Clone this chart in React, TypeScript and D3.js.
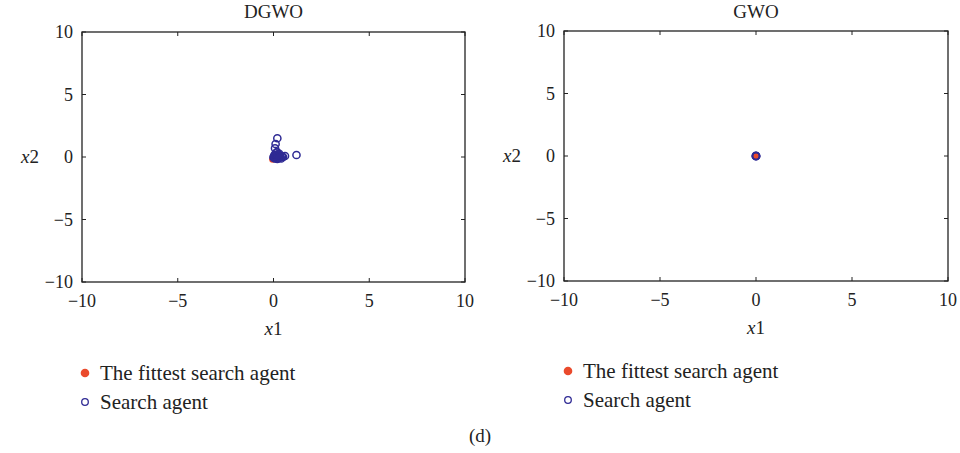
import React from "react";
import * as d3 from "d3";

// Axis ticks shared by both panels
const tickValues = [-10, -5, 0, 5, 10];

// DGWO search agents (x1, x2)
const dgwoX = [0.2, 0.11, 0.08, 1.2, 0.6, 0.45, 0.35, 0.3, 0.25, 0.2, 0.15, 0.1, 0.05, 0.02, 0.0, 0.4, 0.3, 0.2, 0.12, 0.5, 0.28, 0.18, 0.08, 0.15, 0.25, 0.35, 0.05, 0.22];
const dgwoY = [1.5, 1.04, 0.7, 0.16, 0.08, 0.02, 0.1, -0.05, 0.2, 0.0, -0.1, 0.05, 0.15, -0.08, 0.0, -0.12, 0.25, -0.15, 0.3, 0.0, 0.05, 0.4, -0.12, 0.12, -0.1, -0.02, 0.08, 0.18];
// DGWO fittest agent
const dgwoBestX = [-0.04];
const dgwoBestY = [-0.18];

// GWO search agents (all converged to the origin)
const gwoX = [0.0, 0.01, -0.01, 0.0];
const gwoY = [0.0, 0.0, 0.01, -0.01];
const gwoBestX = [0.0];
const gwoBestY = [0.0];

const titles = ["DGWO", "GWO"];
const legendLabels = ["The fittest search agent", "Search agent"];

const AGENT = "#2f2a94";
const BEST = "#ea4a2c";
const AXIS = "#222";
const FONT = "'Liberation Serif', 'DejaVu Serif', serif";

type PanelProps = {
  left: number; right: number; top: number; bottom: number;
  title: string;
  xs: number[]; ys: number[]; bx: number[]; by: number[];
  bestOnTop: boolean;
};

const fmt = (t: number) => (t < 0 ? "\u2212" + Math.abs(t) : String(t));

function Panel({ left, right, top, bottom, title, xs, ys, bx, by, bestOnTop }: PanelProps) {
  const x = d3.scaleLinear().domain([-10, 10]).range([left, right]);
  const y = d3.scaleLinear().domain([-10, 10]).range([bottom, top]);
  const tl = 4;
  return (
    <g>
      <text x={(left + right) / 2} y={18} textAnchor="middle" fontSize={19} fontFamily={FONT} fill="#222">{title}</text>
      {bx.map((v, i) => (
        <circle key={"b" + i} cx={x(v)} cy={y(by[i])} r={3.6} fill={BEST} />
      ))}
      {xs.map((v, i) => (
        <circle key={"a" + i} cx={x(v)} cy={y(ys[i])} r={3.6} fill="none" stroke={AGENT} strokeWidth={1.5} />
      ))}
      {bestOnTop && bx.map((v, i) => (
        <circle key={"bt" + i} cx={x(v)} cy={y(by[i])} r={2.2} fill={BEST} />
      ))}
      <rect x={left} y={top} width={right - left} height={bottom - top} fill="none" stroke={AXIS} strokeWidth={1.3} />
      {tickValues.map((t) => (
        <g key={"t" + t}>
          <line x1={x(t)} x2={x(t)} y1={bottom} y2={bottom - tl} stroke={AXIS} strokeWidth={1} />
          <line x1={x(t)} x2={x(t)} y1={top} y2={top + tl} stroke={AXIS} strokeWidth={1} />
          <line x1={left} x2={left + tl} y1={y(t)} y2={y(t)} stroke={AXIS} strokeWidth={1} />
          <line x1={right} x2={right - tl} y1={y(t)} y2={y(t)} stroke={AXIS} strokeWidth={1} />
          <text x={x(t)} y={bottom + 25} textAnchor="middle" fontSize={18} fontFamily={FONT} fill="#222">{fmt(t)}</text>
          <text x={left - 9} y={y(t) + 6} textAnchor="end" fontSize={18} fontFamily={FONT} fill="#222">{fmt(t)}</text>
        </g>
      ))}
      <text x={(left + right) / 2} y={bottom + 53} textAnchor="middle" fontSize={19} fontFamily={FONT} fill="#222">
        <tspan fontStyle="italic">x</tspan>1
      </text>
      <text x={left - 52} y={(top + bottom) / 2 + 6} textAnchor="middle" fontSize={19} fontFamily={FONT} fill="#222">
        <tspan fontStyle="italic">x</tspan>2
      </text>
    </g>
  );
}

function Legend({ x0, y0 }: { x0: number; y0: number }) {
  return (
    <g>
      <circle cx={x0} cy={y0} r={4.3} fill={BEST} />
      <text x={x0 + 15} y={y0 + 7} fontSize={21} fontFamily={FONT} fill="#222">{legendLabels[0]}</text>
      <circle cx={x0} cy={y0 + 29} r={3.3} fill="none" stroke={AGENT} strokeWidth={1.3} />
      <text x={x0 + 15} y={y0 + 36} fontSize={21} fontFamily={FONT} fill="#222">{legendLabels[1]}</text>
    </g>
  );
}

export default function App() {
  return (
    <svg width={960} height={453} style={{ position: "absolute", left: 0, top: 0, background: "#fff" }}>
      <Panel left={82} right={465} top={32} bottom={282} title={titles[0]}
        xs={dgwoX} ys={dgwoY} bx={dgwoBestX} by={dgwoBestY} bestOnTop={false} />
      <Panel left={564} right={948} top={31} bottom={281} title={titles[1]}
        xs={gwoX} ys={gwoY} bx={gwoBestX} by={gwoBestY} bestOnTop={true} />
      <Legend x0={85} y0={373} />
      <Legend x0={568} y0={371} />
      <text x={480} y={442} textAnchor="middle" fontSize={19} fontFamily={FONT} fill="#222">(d)</text>
    </svg>
  );
}
